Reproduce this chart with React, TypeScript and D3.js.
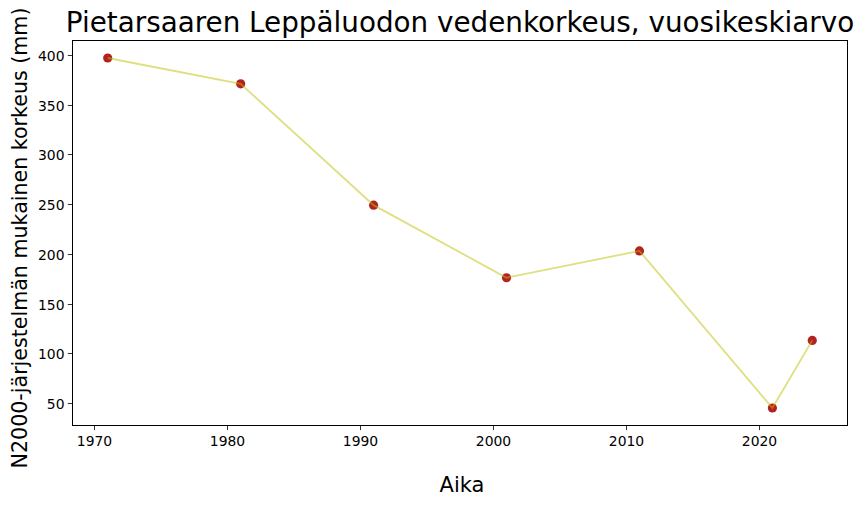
import React from "react";
import * as d3 from "d3";

const years = [1971, 1981, 1991, 2001, 2011, 2021, 2024];
const levels = [397, 371, 249, 176, 203, 45, 113];
const xTicks = [1970, 1980, 1990, 2000, 2010, 2020];
const yTicks = [50, 100, 150, 200, 250, 300, 350, 400];

const W = 862, H = 507;
const M = { left: 72.5, right: 847.5, top: 40.5, bottom: 425.5 };

export default function App() {
  const xMin = d3.min(years)!, xMax = d3.max(years)!;
  const yMin = d3.min(levels)!, yMax = d3.max(levels)!;
  const xPad = (xMax - xMin) * 0.05, yPad = (yMax - yMin) * 0.05;
  const x = d3.scaleLinear().domain([xMin - xPad, xMax + xPad]).range([M.left, M.right]);
  const y = d3.scaleLinear().domain([yMin - yPad, yMax + yPad]).range([M.bottom, M.top]);
  const pts = years.map((yr, i) => [yr, levels[i]] as [number, number]);
  const line = d3.line<[number, number]>().x(d => x(d[0])).y(d => y(d[1]));
  const font = "DejaVu Sans, sans-serif";
  return (
    <svg width={W} height={H} style={{ position: "absolute", left: 0, top: 0 }} fontFamily={font}>
      <rect width={W} height={H} fill="#fff" />
      {pts.map((d, i) => (
        <circle key={i} cx={x(d[0])} cy={y(d[1])} r={4.6} fill="#b22222" />
      ))}
      <path d={line(pts)!} fill="none" stroke="#bfbf00" strokeOpacity={0.5} strokeWidth={1.8} />
      <rect x={M.left} y={M.top} width={M.right - M.left} height={M.bottom - M.top} fill="none" stroke="#000" strokeWidth={1} />
      {xTicks.map(t => (
        <g key={t} transform={`translate(${Math.round(x(t)) + 0.5},${M.bottom})`}>
          <line y2={4.7} stroke="#000" strokeWidth={0.8} />
          <text y={20} textAnchor="middle" fontSize={13.9} fill="#000">{t}</text>
        </g>
      ))}
      {yTicks.map(t => (
        <g key={t} transform={`translate(${M.left},${Math.round(y(t)) + 0.5})`}>
          <line x2={-4.7} stroke="#000" strokeWidth={0.8} />
          <text x={-8} dy="0.36em" textAnchor="end" fontSize={13.9} fill="#000">{t}</text>
        </g>
      ))}
      <text x={(M.left + M.right) / 2} y={32} textAnchor="middle" fontSize={27.8} fill="#000">
        Pietarsaaren Leppäluodon vedenkorkeus, vuosikeskiarvo
      </text>
      <text x={(M.left + M.right) / 2 + 2} y={492} textAnchor="middle" fontSize={21} fill="#000">Aika</text>
      <text transform={`translate(26.5,238) rotate(-90)`} textAnchor="middle" fontSize={20.6} fill="#000">
        N2000-järjestelmän mukainen korkeus (mm)
      </text>
    </svg>
  );
}
